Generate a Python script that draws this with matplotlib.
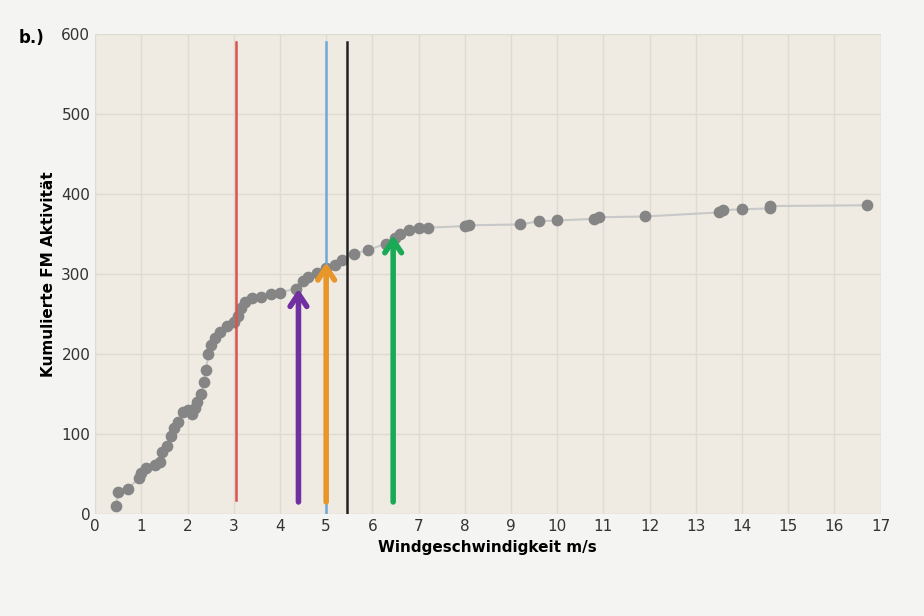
import matplotlib
matplotlib.use("Agg")
import matplotlib.pyplot as plt

wind = [0.45,0.5,0.7,0.95,1.0,1.1,1.3,1.4,1.45,1.55,1.65,1.7,1.8,1.9,2.0,2.1,2.15,2.2,2.3,2.35,2.4,2.45,2.5,2.6,2.7,2.85,3.0,3.1,3.15,3.25,3.4,3.6,3.8,4.0,4.35,4.5,4.6,4.8,5.0,5.2,5.35,5.6,5.9,6.3,6.5,6.6,6.8,7.0,7.2,8.0,8.1,9.2,9.6,10.0,10.8,10.9,11.9,13.5,13.6,14.0,14.6,14.6,16.7]
cum = [10,28,32,45,52,58,62,65,78,85,98,108,115,128,130,125,133,140,150,165,180,200,212,220,228,235,240,248,258,265,270,272,275,277,282,292,297,302,308,312,318,325,330,338,345,350,355,357,358,360,361,362,366,367,369,371,372,377,380,381,382,385,386]

vlines = [(3.05, 18, 590, "#d9534f"), (5.0, 0, 590, "#6fa8d6"), (5.45, 0, 590, "#222222")]
arrows = [(4.4, 12, 285, "#7030a0"), (5.0, 12, 318, "#e8962a"), (6.45, 12, 352, "#1aaa55")]

fig = plt.figure(figsize=(9.24, 6.16), dpi=100, facecolor="#f4f4f2")
ax = fig.add_axes([0.103, 0.165, 0.85, 0.78], facecolor="#efebe3")
ax.plot(wind, cum, color="#c8c8c8", lw=1.5, zorder=2)
ax.scatter(wind, cum, s=55, color="#858585", zorder=3)
for x, y0, y1, c in vlines:
    ax.plot([x, x], [y0, y1], color=c, lw=1.8, zorder=4)
for x, y0, y1, c in arrows:
    ax.annotate("", xy=(x, y1), xytext=(x, y0),
                arrowprops=dict(arrowstyle="->,head_width=0.6,head_length=0.9", color=c, lw=4), zorder=5)
ax.set_xlim(0, 17)
ax.set_ylim(0, 600)
ax.set_xticks(range(0, 18))
ax.set_yticks(range(0, 601, 100))
ax.grid(True, color="#dedbd3", lw=1)
ax.set_axisbelow(True)
for s in ax.spines.values():
    s.set_visible(False)
ax.tick_params(length=0, labelsize=11, colors="#333333")
ax.set_xlabel("Windgeschwindigkeit m/s", fontsize=11, fontweight="bold")
ax.set_ylabel("Kumulierte FM Aktivität", fontsize=11, fontweight="bold")
fig.text(0.02, 0.93, "b.)", fontsize=12, fontweight="bold")
fig.savefig("out.png", facecolor=fig.get_facecolor())
